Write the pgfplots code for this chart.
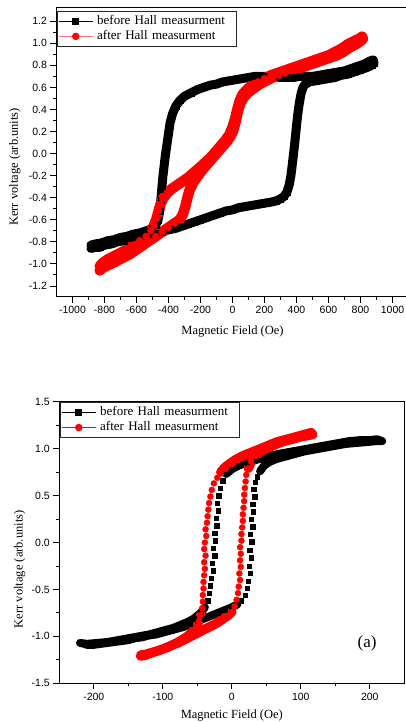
\documentclass[border=0pt]{standalone}
\usepackage{pgfplots}
\pgfplotsset{compat=1.18}
\usepackage{pgfplotstable}
\usepackage{fontspec}
\setmainfont{Liberation Serif}
\newfontfamily\arialfont{Liberation Sans}

\pgfplotstableread{
x y
-885 -0.86
-860 -0.85
-830 -0.85
-800 -0.83
-760 -0.82
-720 -0.80
-680 -0.79
-640 -0.77
-600 -0.76
-560 -0.75
-520 -0.73
-480 -0.72
-440 -0.71
-400 -0.69
-360 -0.68
-320 -0.66
-280 -0.64
-240 -0.62
-200 -0.60
-160 -0.58
-120 -0.56
-80 -0.54
-40 -0.52
0 -0.51
40 -0.49
80 -0.48
120 -0.47
160 -0.46
200 -0.45
240 -0.44
270 -0.43
300 -0.41
320 -0.39
340 -0.35
355 -0.28
365 -0.20
372 -0.12
380 -0.02
388 0.08
395 0.18
402 0.28
410 0.38
418 0.46
428 0.54
440 0.60
455 0.63
480 0.65
520 0.66
560 0.67
600 0.68
640 0.69
680 0.71
720 0.72
760 0.74
800 0.76
840 0.78
870 0.80
885 0.82
880 0.85
860 0.84
820 0.81
780 0.79
740 0.77
700 0.75
660 0.74
620 0.73
580 0.72
540 0.71
500 0.70
460 0.70
420 0.70
380 0.69
340 0.69
300 0.69
260 0.70
220 0.70
180 0.70
140 0.70
100 0.69
60 0.68
20 0.67
-20 0.66
-60 0.65
-100 0.63
-140 0.62
-180 0.60
-220 0.58
-260 0.55
-300 0.52
-330 0.48
-355 0.43
-375 0.36
-390 0.28
-400 0.18
-410 0.08
-420 -0.02
-428 -0.12
-436 -0.22
-442 -0.32
-448 -0.42
-455 -0.52
-465 -0.60
-480 -0.65
-500 -0.68
-540 -0.70
-580 -0.72
-620 -0.73
-660 -0.75
-700 -0.76
-740 -0.78
-780 -0.79
-820 -0.81
-860 -0.82
-885 -0.83
}\topblack

\pgfplotstableread{
x y
-830 -1.06
-815 -1.04
-790 -1.02
-760 -1.00
-720 -0.97
-680 -0.94
-640 -0.91
-600 -0.87
-560 -0.83
-520 -0.79
-480 -0.75
-440 -0.71
-400 -0.67
-360 -0.63
-330 -0.60
-310 -0.55
-295 -0.48
-282 -0.40
-268 -0.33
-245 -0.26
-220 -0.21
-190 -0.15
-160 -0.10
-130 -0.05
-100 0.00
-70 0.05
-40 0.10
-15 0.15
5 0.21
20 0.29
35 0.39
50 0.46
70 0.51
95 0.55
130 0.59
170 0.63
210 0.66
250 0.69
290 0.71
330 0.73
370 0.75
410 0.77
450 0.79
490 0.81
530 0.83
570 0.85
610 0.87
650 0.89
690 0.92
730 0.96
770 0.99
800 1.02
815 1.04
810 1.06
790 1.04
760 1.02
720 0.99
680 0.95
640 0.92
600 0.89
560 0.87
520 0.85
480 0.83
440 0.81
400 0.79
360 0.77
320 0.75
280 0.73
240 0.71
200 0.68
160 0.65
120 0.62
90 0.58
65 0.54
45 0.48
30 0.40
15 0.31
0 0.24
-20 0.17
-50 0.11
-80 0.06
-110 0.01
-140 -0.04
-170 -0.08
-200 -0.12
-240 -0.17
-280 -0.22
-320 -0.26
-350 -0.29
-380 -0.32
-410 -0.36
-435 -0.41
-450 -0.46
-462 -0.52
-475 -0.59
-490 -0.65
-510 -0.70
-540 -0.75
-580 -0.79
-620 -0.83
-660 -0.87
-700 -0.90
-740 -0.93
-780 -0.96
-810 -0.99
-830 -1.02
}\topred

\pgfplotstableread{
x y
-218 -1.07
-210 -1.09
-200 -1.09
-190 -1.08
-180 -1.07
-170 -1.06
-160 -1.05
-150 -1.04
-140 -1.02
-130 -1.01
-120 -0.99
-110 -0.98
-100 -0.96
-90 -0.94
-80 -0.92
-70 -0.90
-60 -0.87
-50 -0.84
-40 -0.81
-30 -0.78
-20 -0.75
-10 -0.72
0 -0.69
8 -0.66
14 -0.62
19 -0.56
22 -0.49
24 -0.41
27 -0.33
25 -0.25
28 -0.16
26 -0.08
29 0.01
27 0.09
30 0.17
28 0.25
31 0.33
30 0.41
33 0.49
32 0.57
34 0.64
37 0.70
41 0.76
47 0.82
55 0.86
65 0.89
75 0.91
90 0.94
105 0.97
120 0.99
135 1.01
150 1.03
165 1.05
180 1.06
195 1.07
210 1.08
218 1.08
210 1.10
200 1.09
185 1.09
170 1.08
155 1.06
140 1.04
125 1.02
110 1.00
95 0.98
80 0.96
65 0.94
50 0.91
35 0.88
22 0.85
10 0.82
0 0.78
-8 0.73
-13 0.66
-17 0.58
-19 0.50
-21 0.42
-20 0.34
-23 0.26
-22 0.18
-25 0.10
-24 0.02
-27 -0.06
-25 -0.14
-28 -0.22
-27 -0.30
-30 -0.38
-31 -0.46
-33 -0.54
-35 -0.62
-39 -0.69
-45 -0.75
-55 -0.81
-65 -0.85
-75 -0.88
-85 -0.91
-95 -0.93
-105 -0.95
-120 -0.98
-135 -1.00
-150 -1.02
-165 -1.04
-180 -1.06
-195 -1.07
-210 -1.08
-220 -1.07
}\botblack

\pgfplotstableread{
x y
-132 -1.21
-125 -1.20
-118 -1.18
-110 -1.16
-102 -1.14
-94 -1.12
-86 -1.09
-78 -1.07
-70 -1.04
-62 -1.01
-54 -0.98
-46 -0.95
-38 -0.92
-30 -0.89
-22 -0.86
-14 -0.82
-6 -0.78
0 -0.74
4 -0.68
7 -0.61
9 -0.54
10 -0.47
12 -0.40
11 -0.33
13 -0.26
12 -0.19
13 -0.12
12 -0.05
14 0.02
14 0.09
15 0.16
16 0.23
16 0.30
17 0.37
18 0.44
18 0.51
19 0.58
20 0.65
21 0.72
24 0.79
28 0.86
34 0.92
42 0.97
52 1.01
62 1.04
72 1.07
82 1.09
92 1.11
102 1.13
110 1.14
117 1.15
115 1.17
105 1.15
95 1.13
85 1.11
75 1.09
65 1.07
55 1.04
45 1.01
35 0.98
25 0.95
15 0.92
5 0.88
-3 0.84
-10 0.80
-16 0.75
-21 0.69
-26 0.63
-29 0.56
-31 0.49
-33 0.42
-34 0.35
-35 0.28
-36 0.21
-38 0.14
-37 0.07
-39 0.00
-40 -0.07
-38 -0.14
-40 -0.21
-39 -0.28
-40 -0.35
-41 -0.42
-41 -0.49
-42 -0.56
-42 -0.63
-43 -0.70
-45 -0.77
-48 -0.84
-52 -0.90
-58 -0.96
-66 -1.01
-75 -1.05
-85 -1.09
-95 -1.12
-105 -1.15
-115 -1.17
-124 -1.19
-132 -1.20
}\botred

\begin{document}
\begin{tikzpicture}
\pgfplotsset{
  kerr/.style={
    scale only axis,
    axis line style={line width=1pt, black},
    tick align=outside,
    xtick pos=bottom, ytick pos=left,
    major tick length=6pt, minor tick length=3pt,
    every tick/.append style={line width=0.9pt, black},
    minor x tick num=1, minor y tick num=1,
    tick label style={font=\fontsize{10.5}{12}\selectfont\arialfont},
    /pgf/number format/assume math mode=true,
    /pgf/number format/set thousands separator={},
    yticklabel style={/pgf/number format/fixed, /pgf/number format/fixed zerofill, /pgf/number format/precision=1},
    label style={font=\fontsize{12.5}{14}\selectfont},
    xlabel={Magnetic Field (Oe)},
    ylabel={Kerr voltage (arb.units)},
    legend cell align=left,
    legend image code/.code={\draw[mark repeat=2,mark phase=2,##1] plot coordinates {(0pt,0pt) (17pt,0pt) (34pt,0pt)};},
    legend style={anchor=north west, draw=black!85, line width=0.7pt,
      font=\fontsize{13}{14}\selectfont, inner xsep=1pt, inner ysep=3pt, row sep=1pt,
      nodes={inner ysep=1pt, inner xsep=4pt, text height=9pt, text depth=3pt, text width=134pt}},
  }
}
% ---------- top panel ----------
\begin{axis}[kerr,
  at={(56.5pt,425pt)}, anchor=south west,
  width=352pt, height=289pt,
  xmin=-1100, xmax=1100, ymin=-1.3, ymax=1.32,
  xtick={-1000,-800,...,1000},
  ytick={-1.2,-1.0,...,1.21},
  xlabel style={at={(axis description cs:0.5,-0.121)}, anchor=center},
  ylabel style={at={(axis description cs:-0.118,0.45)}, anchor=center},
  legend style={at={(axis description cs:0,1)}, xshift=0.5pt, yshift=-3pt},
]
\addplot[black, line width=9pt, line join=round, line cap=round, forget plot] table {\topblack};
\addplot[black, only marks, mark=square*, mark size=3pt, forget plot] table {\topblack};
\addplot[red, line width=10.5pt, line join=round, line cap=round, forget plot] table {\topred};
\addplot[red, only marks, mark=*, mark size=3.5pt, forget plot] table {\topred};
\addlegendimage{black, line width=0.8pt, mark=square*, mark size=3pt}
\addlegendentry{before Hall measurment}
\addlegendimage{red!55, line width=0.8pt, mark=*, mark options={red}, mark size=3.3pt}
\addlegendentry{after Hall measurment}
\end{axis}
% ---------- bottom panel ----------
\begin{axis}[kerr,
  at={(59.3pt,38.7pt)}, anchor=south west,
  width=345pt, height=281.6pt,
  xmin=-250, xmax=250, ymin=-1.5, ymax=1.5,
  xtick={-200,-100,...,200},
  ytick={-1.5,-1.0,...,1.51},
  xlabel style={at={(axis description cs:0.5,-0.114)}, anchor=center},
  ylabel style={at={(axis description cs:-0.115,0.405)}, anchor=center},
  legend style={at={(axis description cs:0,1)}, xshift=0.7pt, yshift=-0.5pt},
]
\addplot[black, line width=8pt, line join=round, line cap=round, forget plot,
  restrict y to domain=-2:-0.66, unbounded coords=jump] table {\botblack};
\addplot[black, line width=8pt, line join=round, line cap=round, forget plot,
  restrict y to domain=0.72:2, unbounded coords=jump] table {\botblack};
\addplot[black, only marks, mark=square*, mark size=2.2pt, forget plot] table {\botblack};
\addplot[red, line width=9.5pt, line join=round, line cap=round, forget plot,
  restrict y to domain=-2:-0.74, unbounded coords=jump] table {\botred};
\addplot[red, line width=9.5pt, line join=round, line cap=round, forget plot,
  restrict y to domain=0.74:2, unbounded coords=jump] table {\botred};
\addplot[red, only marks, mark=*, mark size=3pt, forget plot] table {\botred};
\addlegendimage{black, line width=0.8pt, mark=square*, mark size=3pt}
\addlegendentry{before Hall measurment}
\addlegendimage{red, line width=0.8pt, mark=*, mark size=3.3pt}
\addlegendentry{after Hall measurment}
\node[font=\fontsize{17}{20}\selectfont] at (rel axis cs:0.892,0.143) {(a)};
\end{axis}
\pgfresetboundingbox
\path (0pt,0pt) rectangle (405pt,722pt);
\end{tikzpicture}
\end{document}
